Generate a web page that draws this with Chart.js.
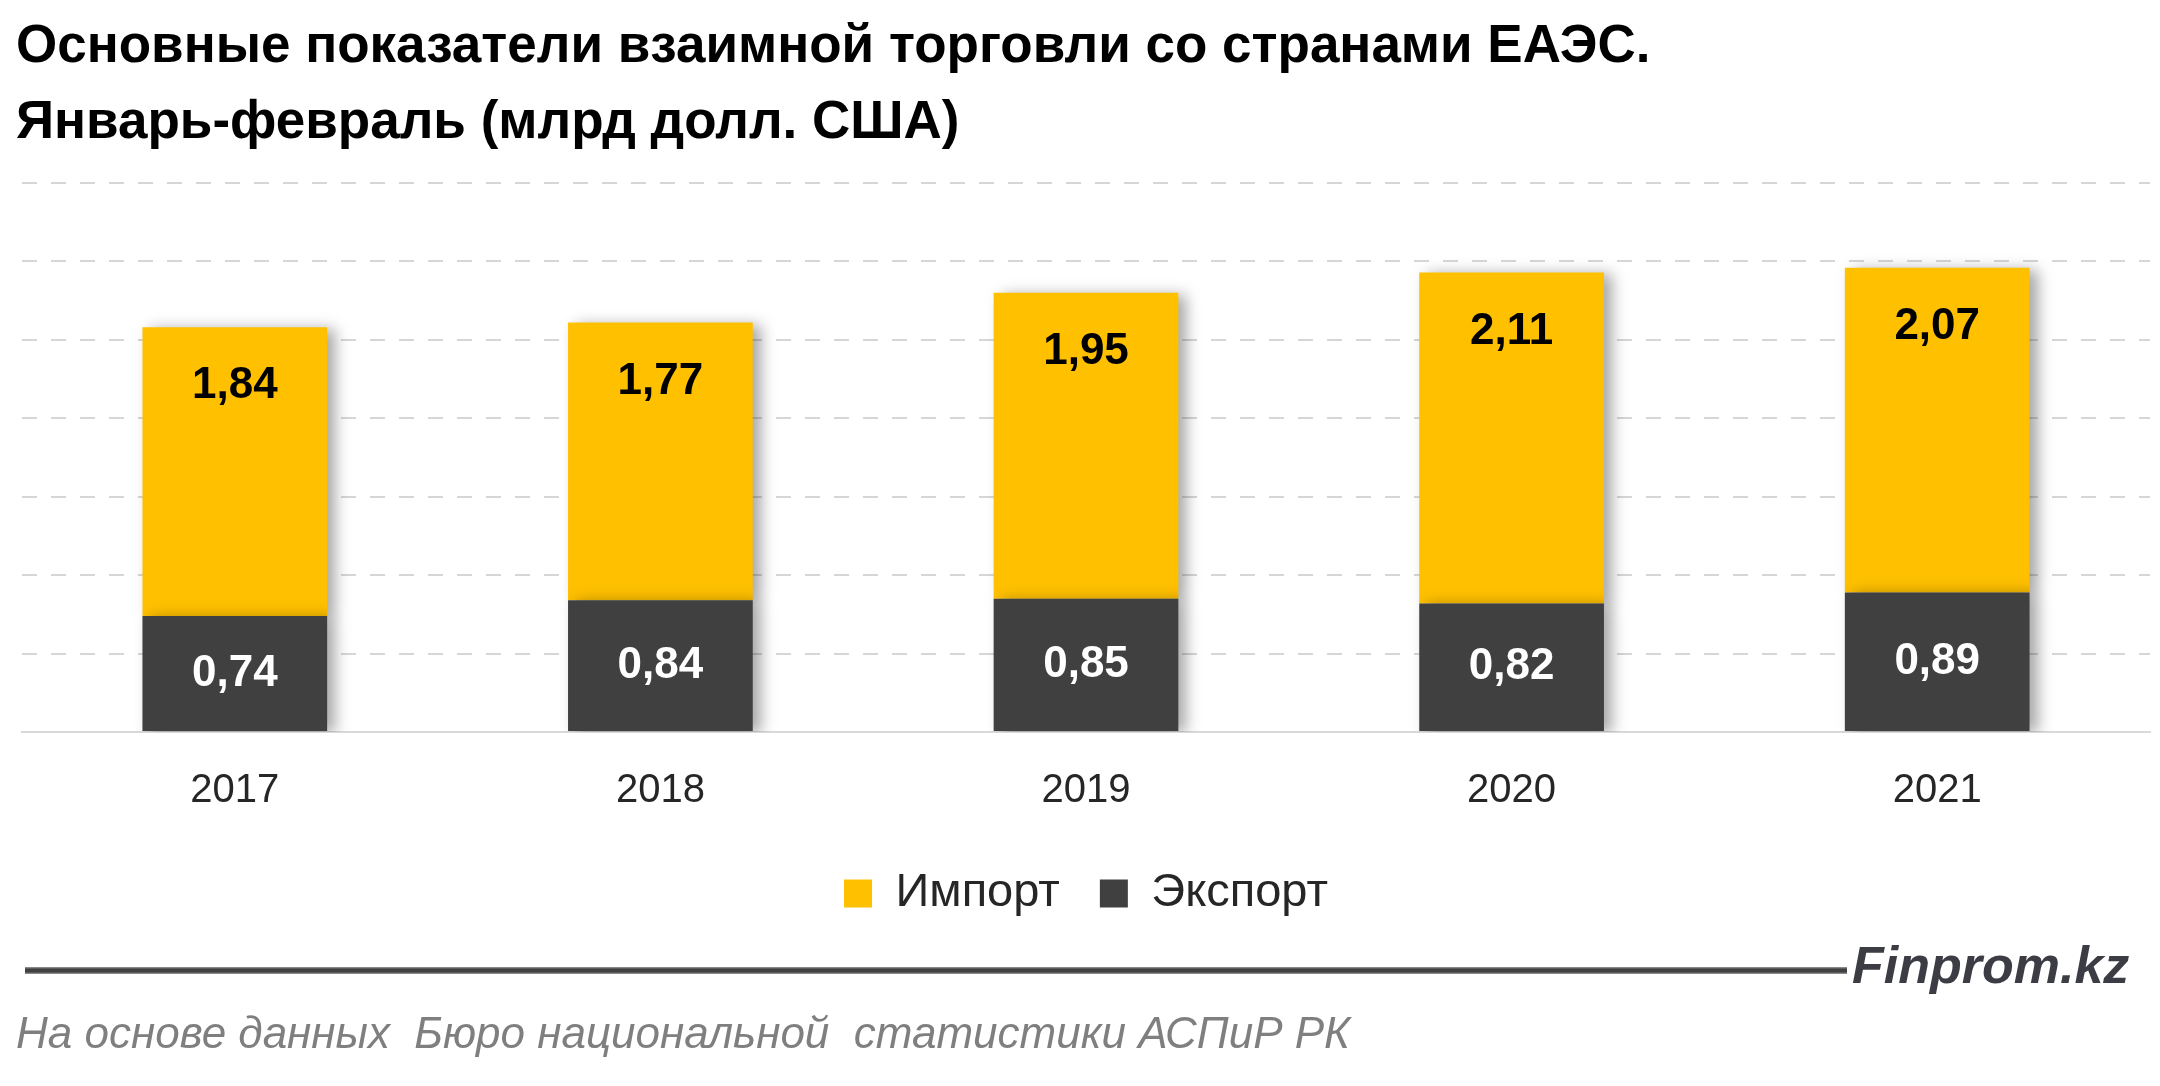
<!DOCTYPE html>
<html>
<head>
<meta charset="utf-8">
<script src="https://cdn.jsdelivr.net/npm/chart.js@4/dist/chart.umd.min.js"></script>
<style>
html,body{margin:0;padding:0;background:#fff;width:2160px;height:1086px;overflow:hidden}
#wrap{position:absolute;left:0;top:0;width:2160px;height:1086px}
#title{position:absolute;left:16px;top:6px;font:bold 53px 'Liberation Sans',Arial,sans-serif;line-height:76px;color:#000;white-space:nowrap}
#rule{position:absolute;left:25px;top:967px;width:1822px;height:7px;background:linear-gradient(to bottom,#a0a0a0,#404040 30%,#404040 70%,#a0a0a0)}
#brand{position:absolute;left:1852px;top:935px;font:italic bold 52px 'Liberation Sans',Arial,sans-serif;color:#3c3c44;white-space:nowrap;line-height:60px}
#source{position:absolute;left:16px;top:1006px;font:italic 44px 'Liberation Sans',Arial,sans-serif;color:#7f7f7f;white-space:pre;line-height:54px}
</style>
</head>
<body>
<div id="wrap"><canvas id="c"></canvas></div>
<div id="title">Основные показатели взаимной торговли со странами ЕАЭС.<br>Январь-февраль (млрд долл. США)</div>
<div id="rule"></div>
<div id="brand">Finprom.kz</div>
<div id="source">На основе данных  Бюро национальной  статистики АСПиР РК</div>
<script>
const categories = ['2017', '2018', '2019', '2020', '2021'];
const importValues = [1.84, 1.77, 1.95, 2.11, 2.07];
const exportValues = [0.74, 0.84, 0.85, 0.82, 0.89];
const yTicks = [0, 0.5, 1, 1.5, 2, 2.5, 3, 3.5];

const fmt = v => v.toFixed(2).replace('.', ',');

const barShadow = {
  id: 'barShadow',
  beforeDatasetsDraw(chart) {
    const c = chart.ctx;
    c.save();
    c.shadowColor = 'rgba(0,0,0,0.35)';
    c.shadowBlur = 14;
    c.shadowOffsetX = 8;
    c.shadowOffsetY = 2;
  },
  afterDatasetsDraw(chart) {
    chart.ctx.restore();
  }
};

const valueLabels = {
  id: 'valueLabels',
  afterDatasetsDraw(chart) {
    const ctx = chart.ctx;
    ctx.save();
    ctx.font = 'bold 44px "Liberation Sans", Arial, sans-serif';
    ctx.textAlign = 'center';
    ctx.textBaseline = 'middle';
    chart.data.datasets.forEach((ds, i) => {
      const meta = chart.getDatasetMeta(i);
      meta.data.forEach((bar, j) => {
        const y = ds.labelPos === 'top' ? bar.y + 59 : (bar.y + bar.base) / 2;
        ctx.fillStyle = ds.labelColor;
        ctx.fillText(fmt(ds.data[j]), bar.x, y);
      });
    });
    ctx.restore();
  }
};

new Chart(document.getElementById('c'), {
  type: 'bar',
  data: {
    labels: categories,
    datasets: [
      { label: 'Экспорт', data: exportValues, backgroundColor: '#404040', labelColor: '#ffffff', labelPos: 'center' },
      { label: 'Импорт', data: importValues, backgroundColor: '#FFC000', labelColor: '#000000', labelPos: 'top' }
    ]
  },
  options: {
    responsive: true,
    maintainAspectRatio: false,
    animation: false,
    devicePixelRatio: 1,
    layout: { padding: { top: 183, left: 22, right: 10, bottom: 159 } },
    datasets: { bar: { categoryPercentage: 1, barPercentage: 0.434, borderWidth: 0 } },
    scales: {
      x: {
        stacked: true,
        grid: { display: false, drawTicks: false },
        border: { display: true, color: '#d9d9d9', width: 2 },
        ticks: { color: '#262626', font: { family: "'Liberation Sans', Arial, sans-serif", size: 40 }, padding: 35 },
        afterFit: axis => { axis.height -= 20; }
      },
      y: {
        stacked: true,
        min: 0,
        max: 3.5,
        afterBuildTicks: axis => { axis.ticks = yTicks.map(v => ({ value: v })); },
        grid: { color: '#d6d6d6', lineWidth: 2, drawTicks: false },
        border: { display: false, dash: [15, 14] },
        ticks: { display: false }
      }
    },
    plugins: {
      legend: {
        position: 'bottom',
        labels: {
          boxWidth: 28,
          boxHeight: 28,
          padding: 40,
          color: '#262626',
          font: { family: "'Liberation Sans', Arial, sans-serif", size: 47 },
          sort: (a, b) => b.datasetIndex - a.datasetIndex
        }
      },
      tooltip: { enabled: false },
      title: { display: false }
    }
  },
  plugins: [barShadow, valueLabels]
});
</script>
</body>
</html>
